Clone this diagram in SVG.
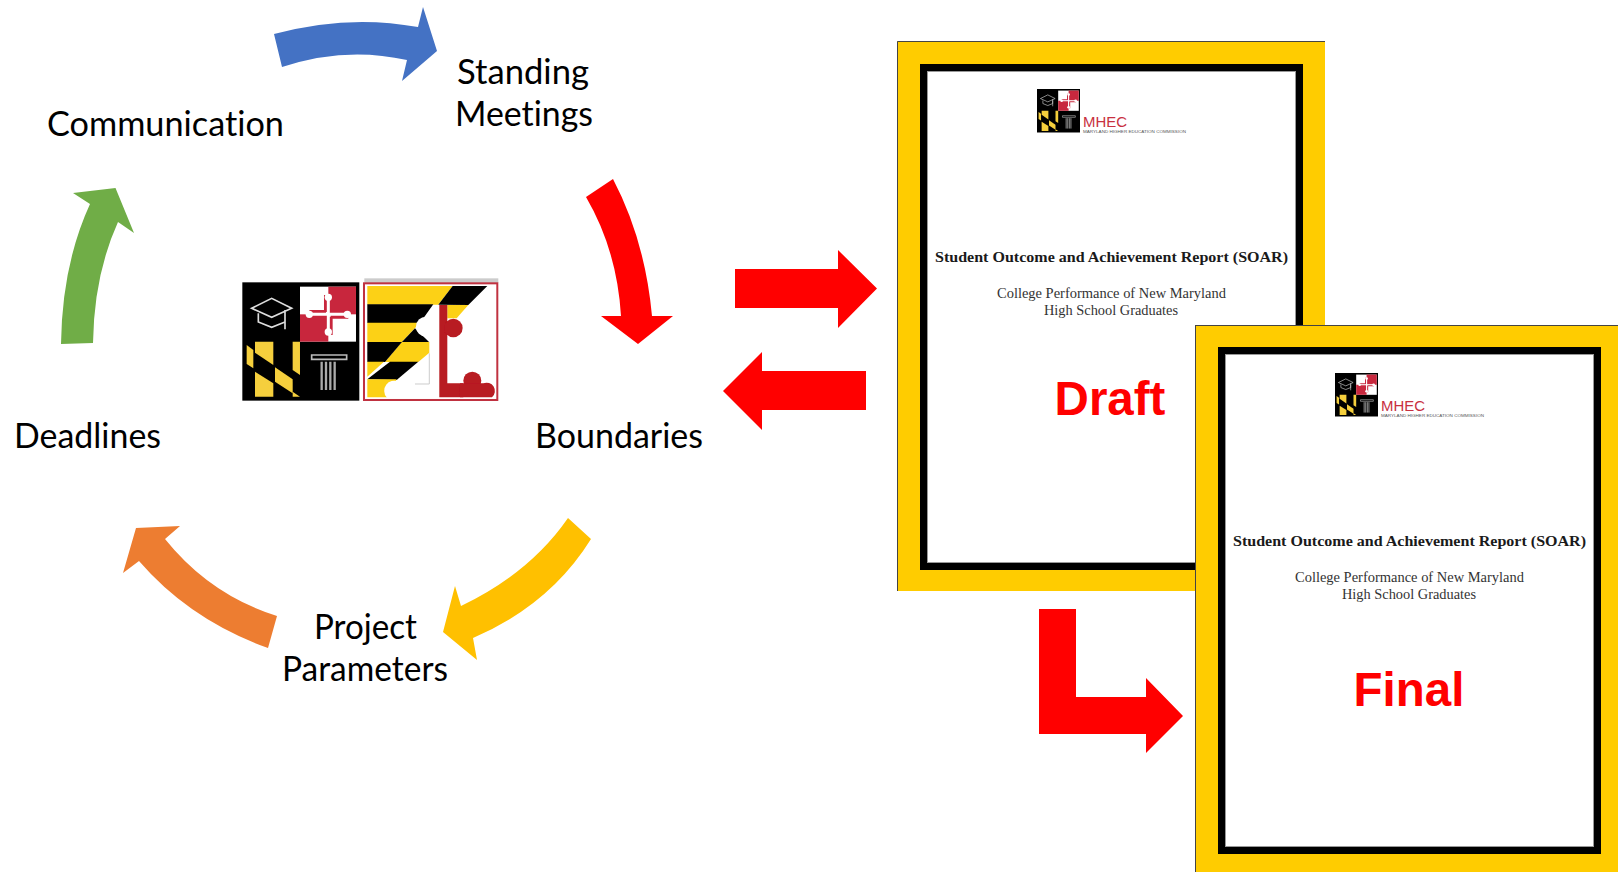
<svg xmlns="http://www.w3.org/2000/svg" width="1618" height="872" viewBox="0 0 1618 872">
<style>
.lbl{font-family:Lato,"Open Sans",sans-serif;font-size:35px;fill:#000;font-variant-ligatures:none}
.ttl{font-family:"Liberation Serif",serif;font-weight:700;font-size:15.5px;fill:#1a1a1a}
.sub{font-family:"Liberation Serif",serif;font-size:14.5px;fill:#333}
.stamp{font-family:"Liberation Sans",sans-serif;font-weight:700;font-size:47.500px;fill:#f00;text-anchor:middle}
.mhec{font-family:"Liberation Sans",sans-serif;font-size:15.5px;fill:#c8303f}
.mini{font-family:"Liberation Sans",sans-serif;font-size:4px;fill:#555}
.edge{fill:none;stroke:#444;stroke-width:1}
.inner{fill:none;stroke:#999;stroke-width:1}
</style>
<defs>
<filter id="soft" x="-5%" y="-5%" width="110%" height="110%"><feGaussianBlur stdDeviation="0.5"/></filter>
<g id="seal">
<rect x="67" y="67" width="351" height="355" fill="#000"/>
<rect x="240" y="80" width="168" height="165" fill="#fff"/>
<rect x="325" y="80" width="83" height="83" fill="#c8283e"/>
<rect x="240" y="163" width="85" height="82" fill="#c8283e"/>
<path d="M318,105V156M268,156H318" stroke="#c8283e" stroke-width="12" fill="none"/>
<path d="M332,170V225M332,170H385" stroke="#c8283e" stroke-width="12" fill="none"/>
<path d="M325,108V222M262,163H388" stroke="#fff" stroke-width="9" fill="none"/>
<circle cx="325" cy="112" r="11" fill="#fff"/><circle cx="325" cy="216" r="11" fill="#fff"/><circle cx="268" cy="163" r="11" fill="#fff"/><circle cx="382" cy="163" r="11" fill="#fff"/>
<path d="M95,145L155,115L215,145L155,172Z M115,160V186L155,202L195,186V160 M195,150V208" stroke="#ddd" stroke-width="5" fill="none"/>
<g fill="#f5cf3c">
<polygon points="105,245 160,245 160,315 105,278"/>
<polygon points="80,255 100,270 100,325 80,312"/>
<polygon points="218,245 240,245 240,345 218,330"/>
<polygon points="165,322 218,358 218,400 165,365"/>
<polygon points="105,335 160,370 160,410 105,410"/>
<polygon points="218,395 240,410 218,410"/>
</g>
<path d="M275,285H380V298H275Z" fill="none" stroke="#bbb" stroke-width="5"/>
<path d="M305,305V390M318,305V390M331,305V390M344,305V390" stroke="#aaa" stroke-width="7"/>
</g>
</defs>
<rect width="1618" height="872" fill="#fff"/>

<g id="cycle-arrows">
<path id="arrow-blue" fill="#4472c4" d="M274,34Q348,14 418,27L423,7L437,51L402,81L407,60Q345,46 282,67Z"/>
<path id="arrow-red" fill="#f00" d="M586,197L613,179Q645,240 652,316L673,316L638,344L601,316L621,316Q617,250 586,197Z"/>
<path id="arrow-yellow" fill="#ffc000" d="M568,518L591,539Q550,605 473,638L477,660L443,632L455,586L461,606Q530,573 568,518Z"/>
<path id="arrow-orange" fill="#ed7d31" d="M277,616L268,648Q190,620 139,561L123,573L136,528L180,526L165,539Q210,595 277,616Z"/>
<path id="arrow-green" fill="#70ad47" d="M61,344Q62,265 90,204L73,193L115.5,188L134,233L118,222Q94,275 93,343Z"/>
</g>

<g id="logo" transform="translate(220,260) scale(0.3333)" filter="url(#soft)">
<use href="#seal"/>
<rect x="433" y="55" width="402" height="14" fill="#ccc"/>
<rect x="432" y="70" width="400" height="350" fill="#fff" stroke="#c0303f" stroke-width="6"/>
<polygon points="442,78 698,78 655,134 442,134" fill="#fcd116"/>
<polygon points="698,78 802,78 745,135 655,134" fill="#000"/>
<polygon points="442,133 640,133 600,189 442,189" fill="#000"/>
<polygon points="442,188 600,188 545,247 442,247" fill="#fcd116"/>
<polygon points="545,247 585,205 628,247" fill="#000"/>
<polygon points="545,246 628,246 628,278 595,306 495,306" fill="#fcd116"/>
<polygon points="442,246 546,246 495,306 442,306" fill="#000"/>
<polygon points="442,305 492,305 442,350" fill="#fcd116"/>
<polygon points="442,358 510,305 595,305 530,360" fill="#000"/>
<polygon points="442,358 530,358 500,412 442,412" fill="#fcd116"/>
<polygon points="682,135 745,135 710,175 682,175" fill="#fcd116"/>
<circle cx="618" cy="200" r="30" fill="#fff"/>
<path d="M500,412A30,30 0 0 1 535,365A30,30 0 0 1 585,360V372H655V412Z" fill="#fff"/>
<path d="M628,280V372H585" fill="none" stroke="#ccc" stroke-width="3"/>
<path d="M658,135H682V370H730V412H658Z" fill="#b81a20"/>
<circle cx="700" cy="204" r="28" fill="#b81a20"/>
<circle cx="757" cy="362" r="27" fill="#b81a20"/>
<path d="M720,412V370H790A25,25 0 0 1 816,412Z" fill="#b81a20"/>
</g>

<g id="label-standing"><text class="lbl" x="457" y="84" textLength="132" lengthAdjust="spacingAndGlyphs">Standing</text><text class="lbl" x="455" y="126" textLength="138" lengthAdjust="spacingAndGlyphs">Meetings</text></g>
<g id="label-communication"><text class="lbl" x="47" y="136" textLength="237" lengthAdjust="spacingAndGlyphs">Communication</text></g>
<g id="label-boundaries"><text class="lbl" x="535" y="448" textLength="168" lengthAdjust="spacingAndGlyphs">Boundaries</text></g>
<g id="label-deadlines"><text class="lbl" x="14" y="448" textLength="147" lengthAdjust="spacingAndGlyphs">Deadlines</text></g>
<g id="label-project"><text class="lbl" x="314" y="639" textLength="103" lengthAdjust="spacingAndGlyphs">Project</text><text class="lbl" x="282" y="681" textLength="166" lengthAdjust="spacingAndGlyphs">Parameters</text></g>

<g id="doc-draft">
<rect x="897" y="41" width="428" height="550" fill="#fc0"/>
<path class="edge" d="M897.500,591V41.500H1325"/>
<rect x="923.500" y="67.500" width="376" height="499" fill="#fff" stroke="#000" stroke-width="7"/>
<rect class="inner" x="927.500" y="71.500" width="368" height="491"/>
<use href="#seal" transform="translate(1037,89) scale(0.1225) translate(-67,-67)"/>
<text class="mhec" x="1083" y="127" textLength="44" lengthAdjust="spacingAndGlyphs">MHEC</text>
<text class="mini" x="1083" y="133" textLength="103" lengthAdjust="spacingAndGlyphs">MARYLAND HIGHER EDUCATION COMMISSION</text>
<text class="ttl" x="935" y="262" textLength="353" lengthAdjust="spacingAndGlyphs">Student Outcome and Achievement Report (SOAR)</text>
<text class="sub" x="997" y="298" textLength="229" lengthAdjust="spacingAndGlyphs">College Performance of New Maryland</text>
<text class="sub" x="1044" y="315" textLength="134" lengthAdjust="spacingAndGlyphs">High School Graduates</text>
<text class="stamp" x="1110" y="415">Draft</text>
</g>

<g id="doc-final">
<rect x="1195.500" y="325.500" width="428" height="550" fill="#fc0" stroke="#444" stroke-width="1"/>
<rect x="1221.500" y="350.500" width="376" height="500" fill="#fff" stroke="#000" stroke-width="7"/>
<rect class="inner" x="1225.500" y="354.500" width="368" height="492"/>
<use href="#seal" transform="translate(1335,373) scale(0.1225) translate(-67,-67)"/>
<text class="mhec" x="1381" y="411" textLength="44" lengthAdjust="spacingAndGlyphs">MHEC</text>
<text class="mini" x="1381" y="417" textLength="103" lengthAdjust="spacingAndGlyphs">MARYLAND HIGHER EDUCATION COMMISSION</text>
<text class="ttl" x="1233" y="546" textLength="353" lengthAdjust="spacingAndGlyphs">Student Outcome and Achievement Report (SOAR)</text>
<text class="sub" x="1295" y="582" textLength="229" lengthAdjust="spacingAndGlyphs">College Performance of New Maryland</text>
<text class="sub" x="1342" y="599" textLength="134" lengthAdjust="spacingAndGlyphs">High School Graduates</text>
<text class="stamp" x="1409" y="706">Final</text>
</g>

<g id="connectors" fill="#f00">
<polygon points="735,269 838,269 838,250 877,288.500 838,328 838,308 735,308"/>
<polygon points="866,371 762,371 762,352 723,391 762,430 762,410 866,410"/>
<polygon points="1039,609 1076,609 1076,697 1146,697 1146,678 1183,716 1146,753 1146,734 1039,734"/>
</g>
</svg>
